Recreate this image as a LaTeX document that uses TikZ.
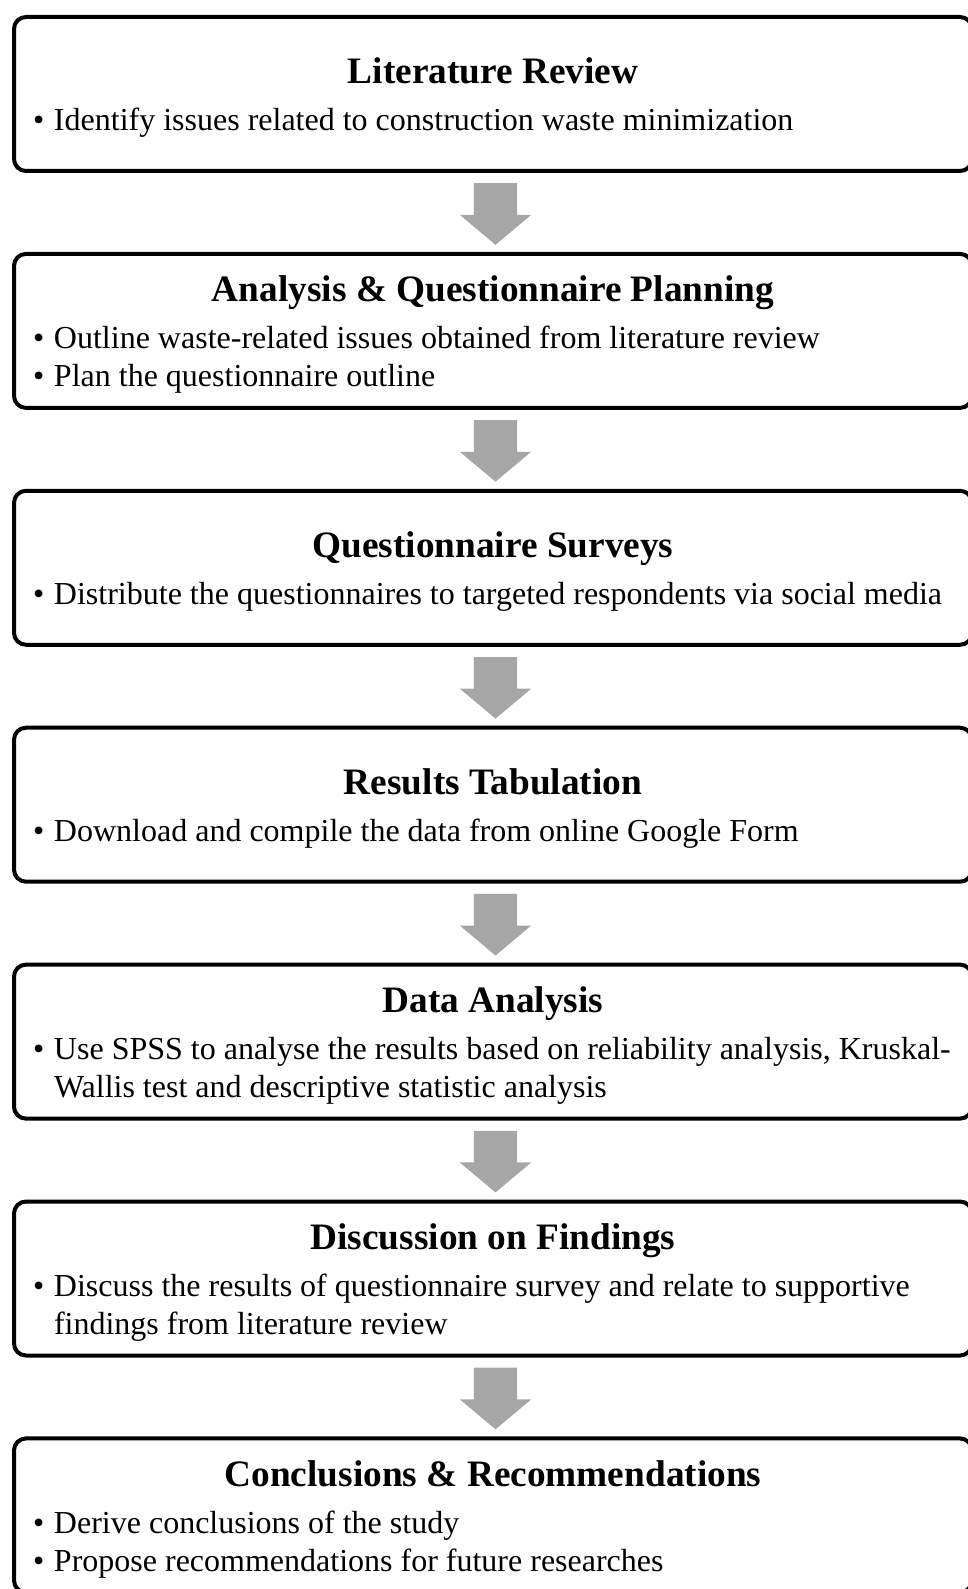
\documentclass[tikz,border=0pt]{standalone}
\usepackage{fontspec}
\setmainfont{Liberation Serif}
\definecolor{arrowgray}{RGB}{166,166,166}
\usetikzlibrary{calc}
\usetikzlibrary{positioning}
\usetikzlibrary{shapes.arrows}

\newcommand{\stagetitle}[1]{\raggedright\spaceskip=8pt\relax
  {\centering\bfseries\fontsize{37.3}{47}\selectfont\spaceskip=0pt\rule{0pt}{33pt}#1\par}\vspace{9pt}}
\newcommand{\stageitem}[1]{\par\noindent\hangindent=21pt\hangafter=1\relax
  \makebox[21pt][l]{\textbullet}#1\par}

\tikzset{
  stage/.style={draw, line width=4pt, rounded corners=12pt, outer sep=0pt,
    minimum width=958pt, minimum height=154pt, text width=920pt, inner xsep=19pt,
    font=\fontsize{32}{38}\selectfont},
  flowarrow/.style={single arrow, shape border rotate=270, fill=arrowgray, draw=none,
    minimum height=59pt, minimum width=71pt, single arrow head extend=14pt,
    single arrow tip angle=100, inner sep=21.5pt}
}

\begin{document}
\begin{tikzpicture}[x=1pt, y=1pt]
  \useasboundingbox (0,0) rectangle (968,-1589);

  \node [stage] (litrev) at (493,-94) {\stagetitle{Literature Review}
    \stageitem{Identify issues related to construction waste minimization}};
  \node [stage, below=82.9pt of litrev] (planning) {\stagetitle{Analysis \& Questionnaire Planning}
    \stageitem{Outline waste-related issues obtained from literature review}
    \stageitem{Plan the questionnaire outline}};
  \node [stage, below=82.9pt of planning] (surveys) {\stagetitle{Questionnaire Surveys}
    \stageitem{Distribute the questionnaires to targeted respondents via social media}};
  \node [stage, below=82.9pt of surveys] (tabulation) {\stagetitle{Results Tabulation}
    \stageitem{Download and compile the data from online Google Form}};
  \node [stage, below=82.9pt of tabulation] (analysis) {\stagetitle{Data Analysis}
    \stageitem{Use SPSS to analyse the results based on reliability analysis, Kruskal-\newline
    Wallis test and descriptive statistic analysis}};
  \node [stage, below=82.9pt of analysis] (findings) {\stagetitle{Discussion on Findings}
    \stageitem{Discuss the results of questionnaire survey and relate to supportive\newline
    findings from literature review}};
  \node [stage, below=82.9pt of findings] (conclusions) {\stagetitle{Conclusions \& Recommendations}
    \stageitem{Derive conclusions of the study}
    \stageitem{Propose recommendations for future researches}};

  % arrows between the stages
  \node [flowarrow, below=12pt of litrev, anchor=tail, xshift=2.5pt] (a1) {};
  \node [flowarrow, below=12pt of planning, anchor=tail, xshift=2.5pt] (a2) {};
  \node [flowarrow, below=12pt of surveys, anchor=tail, xshift=2.5pt] (a3) {};
  \node [flowarrow, below=12pt of tabulation, anchor=tail, xshift=2.5pt] (a4) {};
  \node [flowarrow, below=12pt of analysis, anchor=tail, xshift=2.5pt] (a5) {};
  \node [flowarrow, below=12pt of findings, anchor=tail, xshift=2.5pt] (a6) {};
\end{tikzpicture}
\end{document}
